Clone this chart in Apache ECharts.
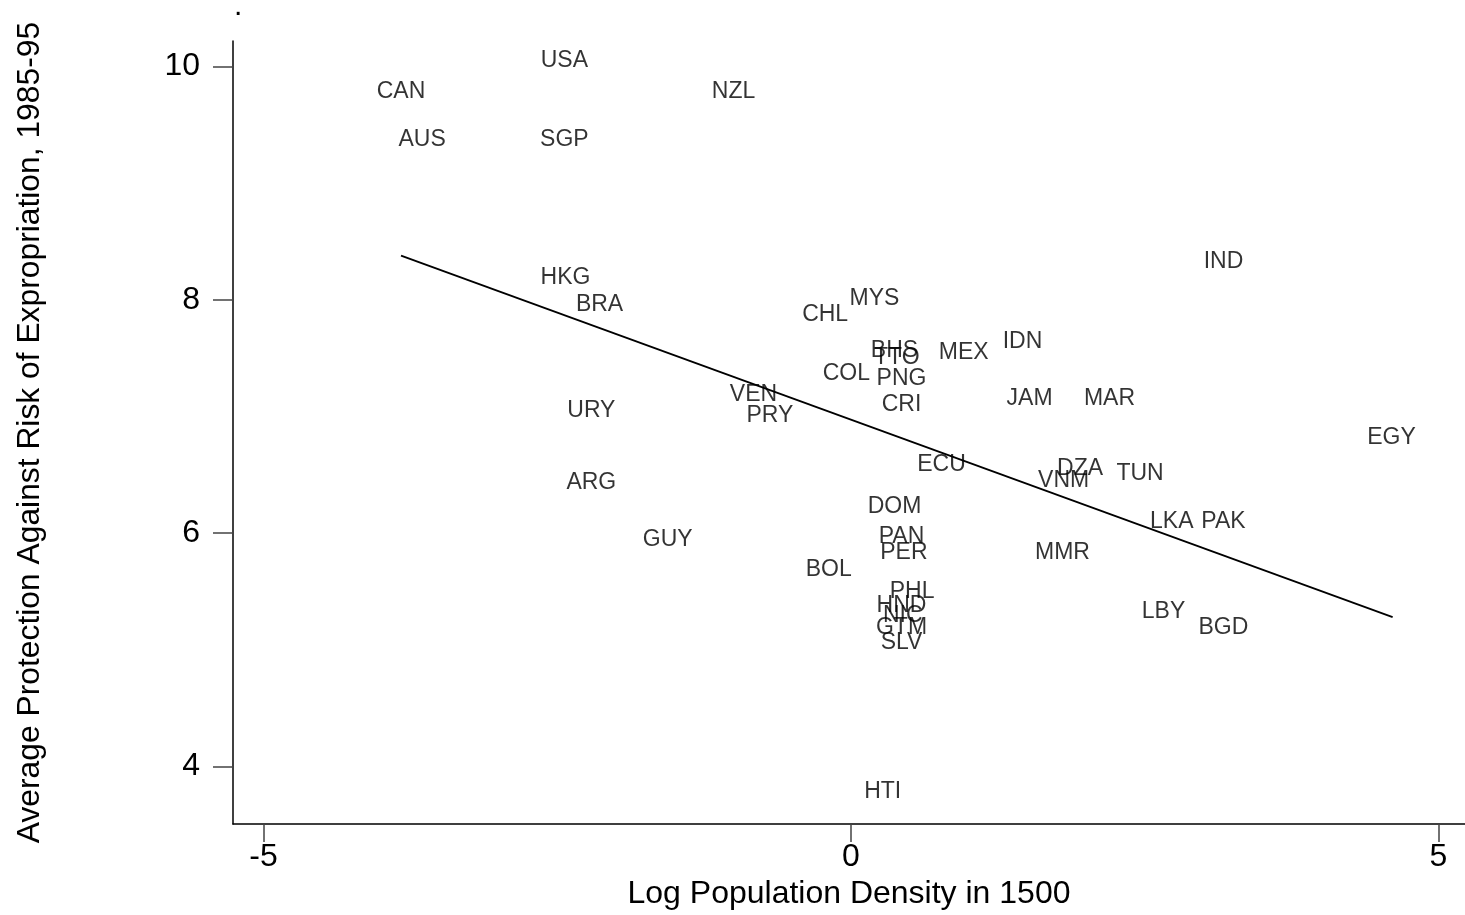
<!DOCTYPE html>
<html>
<head>
<meta charset="utf-8">
<script src="https://cdn.jsdelivr.net/npm/echarts@6/dist/echarts.min.js"></script>
<style>
html,body{margin:0;padding:0;background:#fff;overflow:hidden;}
#chart{width:1465px;height:915px;}
</style>
</head>
<body>
<div id="chart"></div>
<script>
// Country codes and their (x, y) values
var countries = ["USA","CAN","NZL","AUS","SGP","HKG","BRA","MYS","CHL","IND","IDN","BHS","TTO","MEX","COL","PNG","JAM","MAR","VEN","PRY","URY","CRI","EGY","ECU","DZA","VNM","TUN","ARG","DOM","LKA","PAK","GUY","PAN","PER","MMR","BOL","PHL","HND","NIC","GTM","SLV","LBY","BGD","HTI"];
var logDensity = [-2.44,-3.83,-1.00,-3.65,-2.44,-2.43,-2.14,0.20,-0.22,3.17,1.46,0.37,0.39,0.96,-0.04,0.43,1.52,2.20,-0.83,-0.69,-2.21,0.43,4.60,0.77,1.95,1.81,2.46,-2.21,0.37,2.73,3.17,-1.56,0.43,0.45,1.80,-0.19,0.52,0.43,0.44,0.43,0.43,2.66,3.17,0.27];
var expropRisk = [10.06,9.79,9.79,9.38,9.38,8.20,7.97,8.02,7.88,8.34,7.65,7.57,7.51,7.56,7.38,7.33,7.16,7.16,7.20,7.02,7.06,7.11,6.83,6.60,6.56,6.46,6.52,6.44,6.24,6.11,6.11,5.95,5.98,5.84,5.84,5.70,5.51,5.39,5.30,5.20,5.07,5.34,5.20,3.79];
// Fitted line end points
var fitX = [-3.83, 4.61];
var fitY = [8.38, 5.28];
// Tick values
var xTicks = [-5, 0, 5];
var yTicks = [4, 6, 8, 10];

var FONT = "'Liberation Sans', Arial, Helvetica, sans-serif";

var pts = countries.map(function(c, i){ return {name: c, value: [logDensity[i], expropRisk[i]]}; });
var fitData = fitX.map(function(x, i){ return [x, fitY[i]]; });

var chart = echarts.init(document.getElementById('chart'), null, {renderer: 'canvas', width: 1465, height: 915});
chart.setOption({
  backgroundColor: '#fff',
  animation: false,
  grid: {left: 233, right: 0, top: 41, bottom: 83, containLabel: false},
  xAxis: {
    type: 'value', min: -5.26, max: 5.226,
    name: 'Log Population Density in 1500', nameLocation: 'middle', nameGap: 50,
    nameTextStyle: {fontFamily: FONT, fontSize: 32, color: '#000'},
    splitLine: {show: false},
    axisLine: {show: true, onZero: false, lineStyle: {color: '#000', width: 1.5}},
    axisTick: {show: true, length: 18, customValues: xTicks, lineStyle: {color: '#444', width: 1.5}},
    axisLabel: {customValues: xTicks, margin: 17, fontFamily: FONT, fontSize: 32, color: '#000'}
  },
  yAxis: {
    type: 'value', min: 3.506, max: 10.22,
    name: 'Average Protection Against Risk of Expropriation, 1985-95', nameLocation: 'middle', nameGap: 187,
    nameTextStyle: {fontFamily: FONT, fontSize: 31.8, color: '#000'},
    splitLine: {show: false},
    axisLine: {show: true, onZero: false, lineStyle: {color: '#000', width: 1.5}},
    axisTick: {show: true, length: 20, customValues: yTicks, lineStyle: {color: '#444', width: 1.5}},
    axisLabel: {customValues: yTicks, margin: 33, padding: [6, 0, 0, 0], fontFamily: FONT, fontSize: 32, color: '#000'}
  },
  graphic: [{
    type: 'text', left: 234, top: -8,
    style: {text: '.', font: '30px ' + FONT, fill: '#000'}
  }],
  series: [
    {
      type: 'scatter', data: pts, symbolSize: 0, silent: true,
      itemStyle: {color: 'transparent'},
      label: {show: true, position: 'inside', offset: [0, 1], formatter: '{b}', fontFamily: FONT, fontSize: 23, color: '#000'}
    },
    {
      type: 'line', data: fitData, symbol: 'none', silent: true,
      lineStyle: {color: '#000', width: 1.8}
    }
  ]
});
</script>
</body>
</html>
